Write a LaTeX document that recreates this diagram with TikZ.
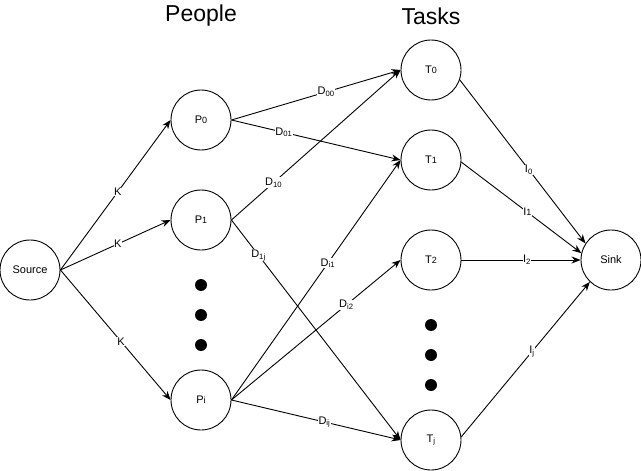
\documentclass[tikz,border=0pt]{standalone}
\usepackage{fontspec}
\setmainfont{Liberation Sans}
\usetikzlibrary{arrows.meta}
\begin{document}
\begin{tikzpicture}[x=1pt,y=-1pt,
  vert/.style={draw,circle,minimum size=60pt,inner sep=0pt,line width=0.9pt,font=\fontsize{11}{13}\selectfont},
  dotnode/.style={fill,circle,minimum size=12pt,inner sep=0pt},
  lbl/.style={fill=white,inner sep=0.5pt,font=\fontsize{11}{13}\selectfont},
  edge/.style={line width=0.9pt,-{Stealth[length=9pt,width=7pt]}},
  title/.style={font=\fontsize{23}{27}\selectfont}]
\useasboundingbox (0,0) rectangle (641,471);
\node[title] (people) at (201,16) {People};
\node[title] (tasks) at (431,16) {Tasks};
\node[vert] (src) at (30,270) {Source};
\node[vert] (p0) at (201,120) {P{\fontsize{9}{10}\selectfont 0}};
\node[vert] (p1) at (201,220) {P{\fontsize{9}{10}\selectfont 1}};
\node[vert] (pi) at (201,400) {P{\fontsize{9}{10}\selectfont i}};
\node[vert] (t0) at (431,70) {T{\fontsize{9}{10}\selectfont 0}};
\node[vert] (t1) at (431,160) {T{\fontsize{9}{10}\selectfont 1}};
\node[vert] (t2) at (431,260) {T{\fontsize{9}{10}\selectfont 2}};
\node[vert] (tj) at (431,440) {T\textsubscript{j}};
\node[vert] (sink) at (611,260) {Sink};
\node[dotnode] (pd1) at (201,285) {};
\node[dotnode] (pd2) at (201,315) {};
\node[dotnode] (pd3) at (201,345) {};
\node[dotnode] (td1) at (431,325) {};
\node[dotnode] (td2) at (431,355) {};
\node[dotnode] (td3) at (431,385) {};
\draw[edge] (src.east) -- node[lbl,pos=0.52] {K} (p0.west);
\draw[edge] (src.east) -- node[lbl,pos=0.52] {K} (p1.west);
\draw[edge] (src.east) -- node[lbl,pos=0.55] {K} (pi.west);
\draw[edge] (p0.east) -- node[lbl,pos=0.56] {D\textsubscript{00}} (t0.west);
\draw[edge] (p0.east) -- node[lbl,pos=0.31] {D\textsubscript{01}} (t1.west);
\draw[edge] (p1.east) -- node[lbl,pos=0.25] {D\textsubscript{10}} (t0.west);
\draw[edge] (p1.east) -- node[lbl,pos=0.16] {D\textsubscript{1j}} (tj.west);
\draw[edge] (pi.east) -- node[lbl,pos=0.57] {D\textsubscript{i1}} (t1.west);
\draw[edge] (pi.east) -- node[lbl,pos=0.68] {D\textsubscript{i2}} (t2.west);
\draw[edge] (pi.east) -- node[lbl,pos=0.55] {D\textsubscript{ij}} (tj.west);
\draw[edge] (t0.-19) -- node[lbl,pos=0.55] {I\textsubscript{0}} (sink.147);
\draw[edge] (t1.-4) -- node[lbl,pos=0.55] {I{\fontsize{9}{10}\selectfont 1}} (sink.167);
\draw[edge] (t2.east) -- node[lbl,pos=0.55] {I\textsubscript{2}} (sink.west);
\draw[edge] (tj.6) -- node[lbl,pos=0.55] {I\textsubscript{j}} (sink.-134);
\end{tikzpicture}
\end{document}
